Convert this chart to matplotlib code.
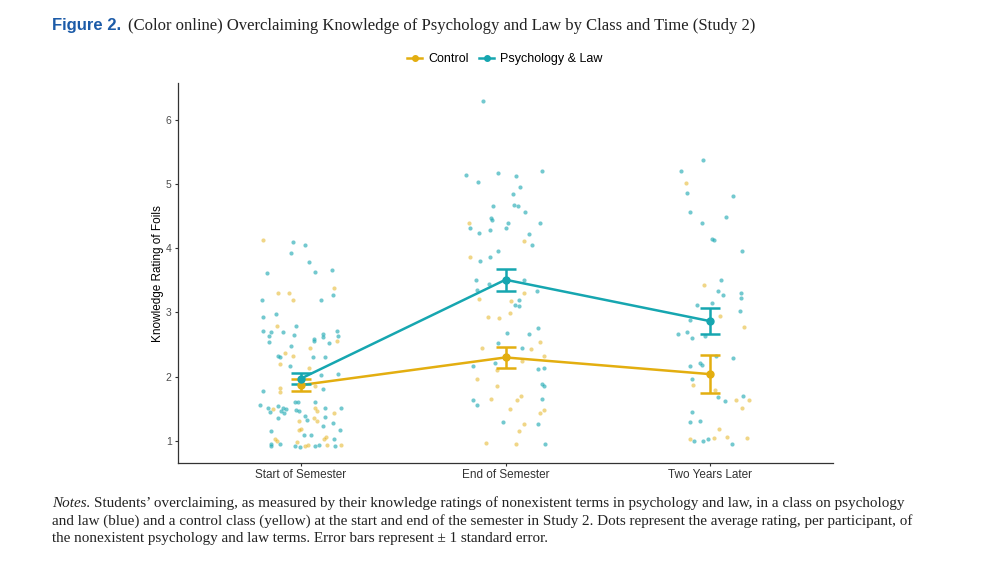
import numpy as np
import matplotlib.pyplot as plt
from matplotlib.lines import Line2D

# Time points on the x axis
times = ["Start of Semester", "End of Semester", "Two Years Later"]
groups = ["Control", "Psychology & Law"]

# Per-participant points (x jitter offset from category centre, rating)
ctrl_start = [(-0.185, 4.13), (0.16, 3.38), (-0.11, 3.30), (-0.06, 3.31), (-0.04, 3.19), (-0.115, 2.79),
              (0.175, 2.56), (-0.075, 2.37), (-0.04, 2.32), (-0.10, 2.20), (0.045, 2.44), (0.04, 2.13),
              (0.07, 1.85), (-0.10, 1.76), (-0.10, 1.83), (-0.135, 1.49), (0.07, 1.51), (0.08, 1.46),
              (-0.01, 1.31), (0.065, 1.35), (0.08, 1.31), (0.0, 1.19), (-0.01, 1.17), (0.115, 1.03),
              (0.125, 1.06), (-0.125, 1.03), (-0.115, 1.00), (-0.02, 0.98), (0.02, 0.92), (0.035, 0.93),
              (0.13, 0.94), (0.195, 0.94), (0.16, 1.44)]
pl_start = [(-0.04, 4.10), (0.02, 4.05), (-0.05, 3.93), (0.04, 3.79), (-0.165, 3.61), (0.07, 3.63),
            (0.15, 3.66), (-0.19, 3.20), (0.10, 3.20), (0.155, 3.27), (-0.185, 2.93), (-0.12, 2.97),
            (-0.025, 2.79), (-0.185, 2.71), (-0.145, 2.70), (-0.155, 2.64), (-0.085, 2.70), (-0.035, 2.65),
            (0.11, 2.67), (0.11, 2.62), (0.175, 2.71), (0.18, 2.64), (0.065, 2.58),
            (-0.155, 2.54), (-0.05, 2.48), (0.065, 2.56), (0.14, 2.53), (-0.11, 2.33), (-0.10, 2.30),
            (-0.055, 2.17), (0.06, 2.30), (0.12, 2.31), (0.10, 2.02), (0.18, 2.05), (0.11, 1.81),
            (-0.185, 1.78), (-0.03, 1.61), (-0.015, 1.60), (-0.20, 1.56), (-0.16, 1.52), (-0.15, 1.45),
            (-0.11, 1.55), (-0.085, 1.51), (-0.07, 1.49), (-0.095, 1.46), (-0.08, 1.44), (-0.11, 1.36),
            (-0.025, 1.48), (-0.01, 1.47), (0.07, 1.61), (0.12, 1.51), (0.155, 1.28), (0.195, 1.51),
            (0.02, 1.39), (0.03, 1.33), (0.12, 1.37), (0.11, 1.23), (0.19, 1.17), (-0.145, 1.16),
            (0.05, 1.10), (0.015, 1.09), (0.16, 1.03), (-0.145, 0.95), (-0.145, 0.92), (-0.10, 0.96),
            (-0.03, 0.92), (-0.005, 0.91), (0.07, 0.92), (0.09, 0.93), (0.165, 0.92)]

ctrl_end = [(-0.18, 4.40), (0.09, 4.12), (-0.175, 3.87), (-0.13, 3.21), (0.09, 3.31), (0.025, 3.18),
            (0.02, 2.99), (-0.085, 2.93), (-0.03, 2.92), (0.17, 2.54), (-0.115, 2.44), (0.125, 2.43),
            (0.19, 2.32), (0.08, 2.25), (-0.04, 2.10), (-0.14, 1.97), (-0.04, 1.86), (-0.07, 1.66),
            (0.075, 1.70), (0.055, 1.64), (0.02, 1.50), (0.19, 1.48), (0.17, 1.44), (0.09, 1.27),
            (0.065, 1.16), (-0.095, 0.97), (0.05, 0.95)]
pl_end = [(-0.11, 6.30), (-0.195, 5.14), (-0.135, 5.03), (-0.035, 5.17), (0.05, 5.13), (0.18, 5.20),
          (0.07, 4.96), (0.035, 4.84), (0.04, 4.67), (0.06, 4.66), (-0.06, 4.65), (0.095, 4.57),
          (-0.07, 4.47), (-0.065, 4.44), (0.01, 4.40), (0.17, 4.39), (-0.175, 4.31), (0.0, 4.32),
          (-0.075, 4.28), (-0.13, 4.23), (0.115, 4.22), (0.13, 4.05), (-0.035, 3.95), (-0.075, 3.86),
          (-0.125, 3.80), (-0.145, 3.51), (-0.08, 3.44), (0.09, 3.50), (-0.14, 3.35), (0.155, 3.34),
          (0.065, 3.20), (0.045, 3.12), (0.065, 3.10), (0.16, 2.76), (0.005, 2.68), (0.115, 2.66),
          (-0.035, 2.53), (0.08, 2.44), (-0.05, 2.21), (-0.16, 2.17), (0.16, 2.12), (0.19, 2.13),
          (0.18, 1.88), (0.19, 1.85), (-0.16, 1.64), (0.18, 1.66), (-0.14, 1.56), (-0.01, 1.30),
          (0.16, 1.27), (0.195, 0.95)]

ctrl_later = [(-0.12, 5.01), (-0.03, 3.43), (0.05, 2.94), (0.165, 2.77), (-0.085, 1.87), (0.025, 1.80),
              (0.125, 1.64), (0.19, 1.63), (0.155, 1.51), (0.045, 1.18), (-0.10, 1.03), (0.02, 1.05),
              (0.08, 1.06), (0.18, 1.05)]
pl_later = [(-0.035, 5.37), (-0.145, 5.21), (-0.115, 4.86), (0.11, 4.82), (-0.10, 4.56), (0.075, 4.48),
            (-0.04, 4.40), (0.01, 4.15), (0.02, 4.13), (0.155, 3.95), (0.055, 3.51), (0.04, 3.34),
            (0.065, 3.27), (0.15, 3.30), (0.15, 3.22), (-0.065, 3.12), (0.01, 3.15), (0.145, 3.03),
            (-0.10, 2.89), (-0.155, 2.67), (-0.115, 2.69), (-0.09, 2.60), (-0.025, 2.63), (0.03, 2.33),
            (0.11, 2.29), (-0.10, 2.17), (-0.05, 2.21), (-0.04, 2.18), (-0.09, 1.96), (0.04, 1.68),
            (0.07, 1.62), (0.16, 1.70), (-0.09, 1.45), (-0.10, 1.30), (-0.05, 1.31), (-0.08, 1.00),
            (-0.035, 1.00), (-0.01, 1.03), (0.105, 0.95)]

# Means and standard errors
ctrl_mean = [1.87, 2.30, 2.04]
ctrl_se = [0.10, 0.165, 0.295]
pl_mean = [1.97, 3.51, 2.865]
pl_se = [0.085, 0.17, 0.205]

c_ctrl = "#E3AE10"
c_pl = "#16A6B0"

fig = plt.figure(figsize=(10, 5.72), dpi=100)
ax = fig.add_axes([0.178, 0.1906, 0.655, 0.664])

xs = np.arange(1, len(times) + 1)
ctrl_pts = [ctrl_start, ctrl_end, ctrl_later]
pl_pts = [pl_start, pl_end, pl_later]
for i in range(len(times)):
    for pts, col, a in [(ctrl_pts[i], c_ctrl, 0.5), (pl_pts[i], c_pl, 0.6)]:
        arr = np.array(pts)
        ax.scatter(xs[i] + arr[:, 0], arr[:, 1], s=9, color=col, alpha=a, linewidths=0, zorder=2)

for mean, se, col in [(ctrl_mean, ctrl_se, c_ctrl), (pl_mean, pl_se, c_pl)]:
    ax.plot(xs, mean, color=col, lw=1.8, zorder=3)
    ax.errorbar(xs, mean, yerr=se, fmt="o", color=col, ms=5, elinewidth=1.8,
                capsize=7.2, capthick=1.8, zorder=4)

ax.set_xlim(0.4, 3.6)
ax.set_ylim(0.657, 6.57)
ax.set_xticks(xs)
ax.set_xticklabels(times)
ax.set_yticks([1, 2, 3, 4, 5, 6])
for s in ["top", "right"]:
    ax.spines[s].set_visible(False)
for s in ["left", "bottom"]:
    ax.spines[s].set_color("#333333")
    ax.spines[s].set_linewidth(0.9)
ax.tick_params(axis="both", length=2.5, width=0.8, color="#333333", pad=2)
ax.tick_params(axis="x", labelsize=8.5, labelcolor="#333333")
ax.tick_params(axis="y", labelsize=7.5, labelcolor="#4D4D4D")
for lab in ax.get_xticklabels() + ax.get_yticklabels():
    lab.set_family("Liberation Sans")
ax.set_ylabel("Knowledge Rating of Foils", fontsize=8.5, family="Liberation Sans", labelpad=1)

handles = [Line2D([], [], color=c_ctrl, marker="o", ms=4, lw=1.8),
           Line2D([], [], color=c_pl, marker="o", ms=4, lw=1.8)]
fig.legend(handles, groups, loc="center", bbox_to_anchor=(0.505, 0.897), ncol=2, frameon=False,
           handlelength=1.2, handletextpad=0.5, columnspacing=0.8,
           prop={"family": "Liberation Sans", "size": 9})

# Title and notes
fig.canvas.draw()
r = fig.canvas.get_renderer()
t1 = fig.text(0.052, 0.947, "Figure 2.", fontsize=12, fontweight="bold", color="#1C5BA8",
              family=["Liberation Sans Narrow", "Liberation Sans"], va="baseline")
bb = t1.get_window_extent(r)
fig.text((bb.x1 + 7) / 1000, 0.947,
         "(Color online) Overclaiming Knowledge of Psychology and Law by Class and Time (Study 2)",
         fontsize=12.0, family="Liberation Serif", color="#222222", va="baseline")

fs_note = 10.9
n1 = fig.text(0.052, 0.113, "Notes.", fontsize=fs_note, style="italic", family="Liberation Serif",
              color="#222222", va="baseline")
bb = n1.get_window_extent(r)
fig.text((bb.x1 + 4) / 1000, 0.113,
         "Students\u2019 overclaiming, as measured by their knowledge ratings of nonexistent terms in "
         "psychology and law, in a class on psychology",
         fontsize=fs_note, family="Liberation Serif", color="#222222", va="baseline")
fig.text(0.052, 0.083,
         "and law (blue) and a control class (yellow) at the start and end of the semester in Study 2. "
         "Dots represent the average rating, per participant, of",
         fontsize=fs_note, family="Liberation Serif", color="#222222", va="baseline")
fig.text(0.052, 0.053,
         "the nonexistent psychology and law terms. Error bars represent \u00b1 1 standard error.",
         fontsize=fs_note, family="Liberation Serif", color="#222222", va="baseline")

fig.savefig("out.png", dpi=100)
